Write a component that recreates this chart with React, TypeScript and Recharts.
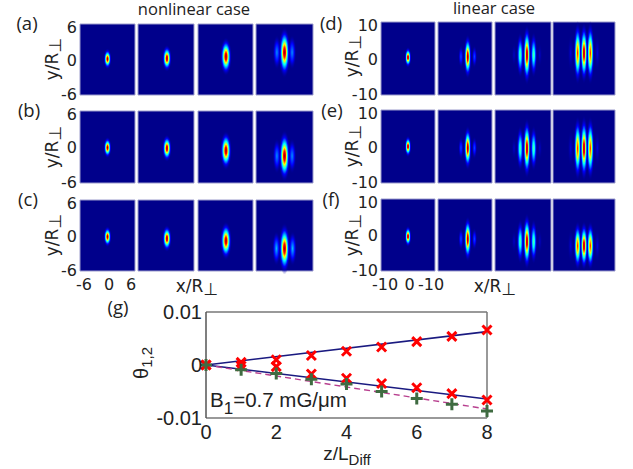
import { ComposedChart, Line, Scatter, ScatterChart, ReferenceArea, XAxis, YAxis } from 'recharts';

type Lobe = [number, number, number, number, number]; // x, y, half width, half height, peak

// nonlinear case, one list per panel
const panelA1: Lobe[] = [[0, 0.1, 0.9, 1.8, 1]];
const panelA2: Lobe[] = [[0.2, 0.2, 1.05, 2.3, 1]];
const panelA3: Lobe[] = [[0.1, 0.5, 1.3, 3.3, 1]];
const panelA4: Lobe[] = [[-1.6, 1.2, 0.9, 3, 0.25], [1.6, 1.2, 0.9, 3, 0.25], [0, 1.2, 1.25, 4.4, 1]];
const panelB1: Lobe[] = [[0, -0.1, 0.9, 1.8, 1]];
const panelB2: Lobe[] = [[0.2, -0.2, 1.05, 2.3, 1]];
const panelB3: Lobe[] = [[0.1, -0.6, 1.3, 3.3, 1]];
const panelB4: Lobe[] = [[-1.6, -1.5, 0.9, 3, 0.25], [1.6, -1.5, 0.9, 3, 0.25], [0, -1.5, 1.25, 4.4, 1]];
const panelC1: Lobe[] = [[0, -0.2, 0.9, 1.8, 1]];
const panelC2: Lobe[] = [[0.2, -0.5, 1.05, 2.3, 1]];
const panelC3: Lobe[] = [[0.1, -0.9, 1.3, 3.3, 1]];
const panelC4: Lobe[] = [[-1.7, -2.2, 0.9, 3, 0.3], [1.7, -2.2, 0.9, 3, 0.3], [0, -2.2, 1.25, 4.4, 1]];

// linear case
const panelD1: Lobe[] = [[0, 0.3, 1.3, 2.9, 1]];
const panelD2: Lobe[] = [[-1.5, 0.5, 1, 3.2, 0.18], [3.5, 0.5, 1, 3.2, 0.18], [1, 0.5, 1.5, 6.2, 1]];
const panelD3: Lobe[] = [[-3.2, 1, 0.9, 3.5, 0.06], [6, 1, 0.9, 3.5, 0.06], [-1, 1, 1.3, 6.4, 0.45], [3.8, 1, 1.3, 6.4, 0.45], [1.4, 1, 1.5, 8.4, 1]];
const panelD4: Lobe[] = [[-4.3, 1.5, 1, 5.5, 0.08], [4.3, 1.5, 1, 5.5, 0.08], [-2.05, 1.5, 1.35, 8.8, 0.85], [2.05, 1.5, 1.35, 8.8, 0.85], [0, 1.5, 1.35, 8.5, 1]];
const panelE1: Lobe[] = [[0, 0, 1.3, 3, 1]];
const panelE2: Lobe[] = [[-1.5, -0.4, 1, 3.2, 0.18], [3.5, -0.4, 1, 3.2, 0.18], [1, -0.4, 1.5, 6.2, 1]];
const panelE3: Lobe[] = [[-3.2, -0.5, 0.9, 3.5, 0.06], [6, -0.5, 0.9, 3.5, 0.06], [-1, -0.5, 1.3, 6.4, 0.45], [3.8, -0.5, 1.3, 6.4, 0.45], [1.4, -0.5, 1.5, 8.4, 1]];
const panelE4: Lobe[] = [[-4.3, -0.5, 1, 5.5, 0.08], [4.3, -0.5, 1, 5.5, 0.08], [-2.05, -0.5, 1.35, 9, 0.85], [2.05, -0.5, 1.35, 9, 0.85], [0, -0.5, 1.35, 9.2, 1]];
const panelF1: Lobe[] = [[0, -0.4, 1.3, 3, 1]];
const panelF2: Lobe[] = [[-1.5, -1.1, 1, 3.2, 0.18], [3.5, -1.1, 1, 3.2, 0.18], [1, -1.1, 1.5, 6.4, 1]];
const panelF3: Lobe[] = [[-3.2, -1.8, 0.9, 3.5, 0.06], [6, -1.8, 0.9, 3.5, 0.06], [-1, -1.8, 1.3, 6.4, 0.45], [3.8, -1.8, 1.3, 6.4, 0.45], [1.4, -1.8, 1.5, 8, 1]];
const panelF4: Lobe[] = [[-4.3, -3, 1, 5, 0.08], [4.3, -3, 1, 5, 0.08], [-2.05, -3, 1.35, 7, 0.85], [2.05, -3, 1.35, 7, 0.85], [0, -3, 1.35, 7, 1]];

const nonlinearRows = [[panelA1, panelA2, panelA3, panelA4], [panelB1, panelB2, panelB3, panelB4], [panelC1, panelC2, panelC3, panelC4]];
const linearRows = [[panelD1, panelD2, panelD3, panelD4], [panelE1, panelE2, panelE3, panelE4], [panelF1, panelF2, panelF3, panelF4]];

const nonlinearTicks = [-6, 0, 6];
const linearTicks = [-10, 0, 10];
const nonlinearXLabels = ['-6', '0', '6'];
const linearXLabels = ['-10', '0', '-10'];

// panel (g)
const zValues = [0, 1, 2, 3, 4, 5, 6, 7, 8];
const upperTheta = [0, 0.0005, 0.001, 0.0018, 0.0026, 0.0034, 0.0044, 0.0054, 0.0066];
const lowerTheta = [0, -0.0002, -0.0003, -0.0017, -0.0025, -0.0035, -0.0043, -0.0054, -0.0066];
const greenTheta = [0, -0.0009, -0.0016, -0.0027, -0.0036, -0.005, -0.0063, -0.0074, -0.0087];
const upperFit = [0, null, null, null, null, null, null, null, 0.0063];
const lowerFit = [0, null, null, null, null, null, null, null, -0.0064];
const dashedFit = [0, null, null, null, null, null, null, null, -0.0083];
const thetaTicks = [-0.01, 0, 0.01];
const thetaLabels = ['-0.01', '0', '0.01'];
const zTicks = [0, 2, 4, 6, 8];

const gRows = zValues.map((z, i) => ({
  z,
  upper: upperTheta[i],
  lower: lowerTheta[i],
  green: greenTheta[i],
  upperFit: upperFit[i],
  lowerFit: lowerFit[i],
  dashedFit: dashedFit[i],
}));

const jetStops: [number, number[]][] = [
  [0, [0, 0, 139]],
  [0.11, [0, 0, 255]],
  [0.36, [0, 255, 255]],
  [0.62, [255, 255, 0]],
  [0.87, [255, 0, 0]],
  [1, [150, 0, 0]],
];

function jet(v: number) {
  for (let i = 1; i < jetStops.length; i++) {
    const [v0, c0] = jetStops[i - 1];
    const [v1, c1] = jetStops[i];
    if (v <= v1) {
      const t = (v - v0) / (v1 - v0);
      return `rgb(${c0.map((c, k) => Math.round(c + (c1[k] - c) * t)).join(',')})`;
    }
  }
  return 'rgb(150,0,0)';
}

function JetGradient({ peak }: { peak: number }) {
  const levels = [peak, ...jetStops.map(s => s[0]).filter(v => v > 0 && v < peak).reverse()];
  return (
    <radialGradient id={`jet-${Math.round(peak * 100)}`}>
      {levels.map(v => (
        <stop key={v} offset={Math.sqrt(Math.log(peak / v) / Math.log(peak / 0.01))} stopColor={jet(v)} />
      ))}
      <stop offset={1} stopColor={jet(0)} stopOpacity={0} />
    </radialGradient>
  );
}

const peaks = [...new Set([...nonlinearRows, ...linearRows].flat(2).map(l => l[4]))];

const LEFT_PAD = 50;
const BOTTOM_PAD = 28;
const EDGE_PAD = 14;
const TICK_FONT = 'DejaVu Sans';

function HeatPanel({ lobes, left, top, width, height, range, ticks, xLabels }: {
  lobes: Lobe[]; left: number; top: number; width: number; height: number; range: number;
  ticks?: number[]; xLabels?: string[];
}) {
  const data = lobes.map(([x, y, hw, hh, peak]) => ({ x, y, hw, hh, peak }));
  const pxX = width / (2 * range);
  const pxY = height / (2 * range);
  return (
    <div style={{ position: 'absolute', left: left - LEFT_PAD, top: top - EDGE_PAD }}>
      <ScatterChart
        width={width + LEFT_PAD + EDGE_PAD}
        height={height + BOTTOM_PAD + EDGE_PAD}
        margin={{ top: EDGE_PAD, right: EDGE_PAD, bottom: 0, left: 0 }}
      >
        <XAxis
          type="number"
          dataKey="x"
          domain={[-range, range]}
          ticks={[-range, 0, range]}
          interval={0}
          height={BOTTOM_PAD}
          axisLine={false}
          tickLine={false}
          tickSize={0}
          tick={xLabels ? (p: any) => (
            <text x={p.x + [4, 1.5, -4][p.index]} y={p.y + 17} textAnchor="middle" fontFamily={TICK_FONT} fontSize={16} fill="#222">
              {xLabels[p.index]}
            </text>
          ) : false}
        />
        <YAxis
          type="number"
          dataKey="y"
          domain={[-range, range]}
          ticks={[-range, 0, range]}
          interval={0}
          width={LEFT_PAD}
          axisLine={false}
          tickLine={false}
          tickSize={0}
          tick={ticks ? (p: any) => (
            <text x={p.x - 1} y={p.y + 6 + (p.index === 2 ? 3 : 0) - (p.index === 0 ? 1 : 0)} textAnchor="end" fontFamily={TICK_FONT} fontSize={16} fill="#222">
              {ticks[p.index]}
            </text>
          ) : false}
        />
        <ReferenceArea x1={-range} x2={range} y1={-range} y2={range} fill="#00008b" fillOpacity={1} stroke="#9c9ccc" strokeWidth={1} />
        <Scatter
          data={data}
          isAnimationActive={false}
          shape={(p: any) => (
            <ellipse
              cx={p.cx}
              cy={p.cy}
              rx={p.payload.hw * pxX}
              ry={p.payload.hh * pxY}
              fill={`url(#jet-${Math.round(p.payload.peak * 100)})`}
            />
          )}
        />
      </ScatterChart>
    </div>
  );
}

const leftXs = [[80, 55], [138, 56], [198, 55], [256, 57]];
const rightXs = [[381, 54], [438, 54], [495, 56], [553, 62]];
const leftYs = [[24, 71], [111, 72], [200, 71]];
const rightYs = [[22, 73], [110, 73], [199, 72]];

function HeatGroup({ rows, xs, ys, range, ticks, xLabels }: {
  rows: Lobe[][][]; xs: number[][]; ys: number[][]; range: number; ticks: number[]; xLabels: string[];
}) {
  return (
    <>
      {rows.map((row, r) => row.map((lobes, c) => (
        <HeatPanel
          key={`${r}-${c}`}
          lobes={lobes}
          left={xs[c][0]}
          width={xs[c][1]}
          top={ys[r][0]}
          height={ys[r][1]}
          range={range}
          ticks={c === 0 ? ticks : undefined}
          xLabels={c === 0 && r === 2 ? xLabels : undefined}
        />
      )))}
    </>
  );
}

const Cross = (p: any) => (
  <path key={p.index} d={`M${p.cx - 4.5},${p.cy - 4.5}L${p.cx + 4.5},${p.cy + 4.5}M${p.cx - 4.5},${p.cy + 4.5}L${p.cx + 4.5},${p.cy - 4.5}`} stroke="#ff0000" strokeWidth={3} fill="none" />
);
const Plus = (p: any) => (
  <path key={p.index} d={`M${p.cx - 6},${p.cy}L${p.cx + 6},${p.cy}M${p.cx},${p.cy - 6}L${p.cx},${p.cy + 6}`} stroke="#3f6b41" strokeWidth={3} fill="none" />
);

function ThetaChart() {
  return (
    <div style={{ position: 'absolute', left: 146, top: 298 }}>
      <ComposedChart width={350} height={150} data={gRows} margin={{ top: 14, right: 9, bottom: 0, left: 0 }}>
        <XAxis
          dataKey="z"
          type="number"
          domain={[0, 8]}
          ticks={zTicks}
          interval={0}
          height={30}
          stroke="#777"
          strokeWidth={1.5}
          tickLine={false}
          tickSize={0}
          tick={{ fontFamily: 'Liberation Sans', fontSize: 20, fill: '#222' }}
          tickMargin={7}
        />
        <XAxis xAxisId="top" dataKey="z" type="number" orientation="top" domain={[0, 8]} ticks={zTicks} mirror tick={false} tickSize={3} stroke="#777" strokeWidth={1.5} height={1} />
        <YAxis
          type="number"
          domain={[-0.01, 0.01]}
          ticks={thetaTicks}
          interval={0}
          width={60}
          stroke="#555"
          strokeWidth={1.5}
          tickLine={false}
          tickSize={0}
          tickMargin={4}
          tickFormatter={(v: number) => thetaLabels[thetaTicks.indexOf(v)]}
          tick={{ fontFamily: 'Liberation Sans', fontSize: 20, fill: '#222' }}
        />
        <YAxis yAxisId="right" type="number" orientation="right" domain={[-0.01, 0.01]} ticks={thetaTicks} mirror tick={false} tickSize={3} stroke="#777" strokeWidth={1.5} width={1} />
        <Line dataKey="upperFit" connectNulls stroke="#1a1a80" strokeWidth={1.6} dot={false} isAnimationActive={false} />
        <Line dataKey="lowerFit" connectNulls stroke="#1a1a80" strokeWidth={1.6} dot={false} isAnimationActive={false} />
        <Line dataKey="dashedFit" connectNulls stroke="#b8408f" strokeWidth={1.4} strokeDasharray="6 4" dot={false} isAnimationActive={false} />
        <Line dataKey="upper" stroke="none" dot={Cross} isAnimationActive={false} />
        <Line dataKey="lower" stroke="none" dot={Cross} isAnimationActive={false} />
        <Line dataKey="green" stroke="none" dot={Plus} isAnimationActive={false} />
      </ComposedChart>
    </div>
  );
}

const Perp = ({ dy = 3 }: { dy?: number }) => <tspan dy={dy}>⊥</tspan>;

function TextLayer() {
  const letter = { fontFamily: 'Open Sans', fontSize: 18.5, fill: '#222', textAnchor: 'middle' as const };
  const axis = { fontFamily: TICK_FONT, fontSize: 17, fill: '#222', textAnchor: 'middle' as const };
  const yLabels: [number, number][] = [[53, 59], [53, 147], [53, 235], [353, 56], [353, 146], [353, 235]];
  return (
    <svg width={633} height={469} style={{ position: 'absolute', left: 0, top: 0, pointerEvents: 'none' }}>
      <defs>{peaks.map(p => <JetGradient key={p} peak={p} />)}</defs>
      <text x={194} y={15} fontFamily="Open Sans" fontSize={16.5} fill="#222" textAnchor="middle">nonlinear case</text>
      <text x={494} y={14} fontFamily="Open Sans" fontSize={16.5} fill="#222" textAnchor="middle">linear case</text>
      <text x={27} y={30} {...letter}>(a)</text>
      <text x={29} y={117} {...letter}>(b)</text>
      <text x={28} y={206} {...letter}>(c)</text>
      <text x={331} y={30} {...letter}>(d)</text>
      <text x={332} y={117} {...letter}>(e)</text>
      <text x={331} y={206} {...letter}>(f)</text>
      <text x={118} y={314} {...letter}>(g)</text>
      {yLabels.map(([x, y]) => (
        <text key={`${x}-${y}`} transform={`translate(${x + 5},${y}) rotate(-90)`} {...axis}>y/R<Perp /></text>
      ))}
      <text x={197} y={292} {...axis}>x/R<Perp /></text>
      <text x={495} y={292} {...axis}>x/R<Perp /></text>
      <text transform="translate(148,363) rotate(-90)" fontFamily="Liberation Sans" fontSize={20} fill="#222" textAnchor="middle">
        θ<tspan fontSize={15} dy={4}>1,2</tspan>
      </text>
      <text x={347} y={460} fontFamily="Liberation Sans" fontSize={19} fill="#222" textAnchor="middle">
        z/L<tspan fontSize={15} dy={5}>Diff</tspan>
      </text>
      <text x={210} y={407} fontFamily="Liberation Sans" fontSize={20.5} fill="#222">
        B<tspan fontSize={17} dy={7}>1</tspan><tspan dy={-7}>=0.7 mG/μm</tspan>
      </text>
    </svg>
  );
}

export default function App() {
  return (
    <div style={{ position: 'absolute', left: 0, top: 0, width: 633, height: 469, background: '#fff', overflow: 'hidden' }}>
      <HeatGroup rows={nonlinearRows} xs={leftXs} ys={leftYs} range={6} ticks={nonlinearTicks} xLabels={nonlinearXLabels} />
      <HeatGroup rows={linearRows} xs={rightXs} ys={rightYs} range={10} ticks={linearTicks} xLabels={linearXLabels} />
      <ThetaChart />
      <TextLayer />
    </div>
  );
}
